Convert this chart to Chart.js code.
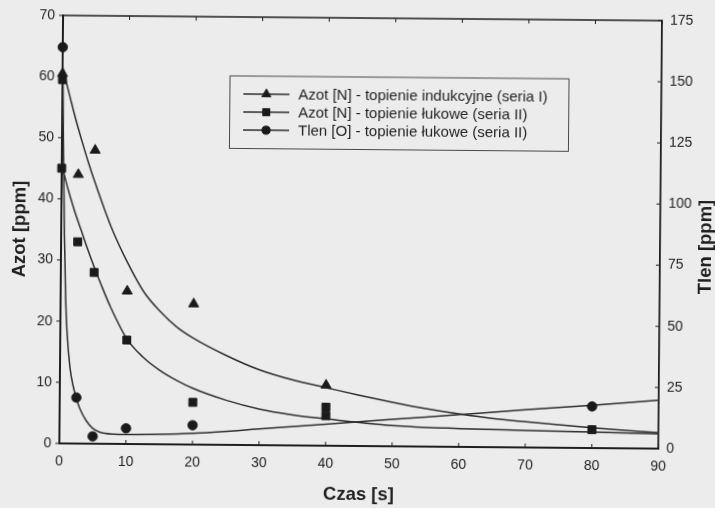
<!DOCTYPE html>
<html>
<head>
<meta charset="utf-8">
<script src="https://cdn.jsdelivr.net/npm/chart.js@4/dist/chart.umd.min.js"></script>
<style>
  html, body { margin: 0; padding: 0; background: #ececec; overflow: hidden; }
  #wrap { width: 715px; height: 508px; transform: rotate(0.5deg); transform-origin: 50% 50%; }
  canvas { display: block; }
</style>
</head>
<body>
<div id="wrap"><canvas id="c" width="715" height="508"></canvas></div>
<script>
// Measured concentrations vs. melting time [s]
const tInduction = [0, 2.5, 5, 10, 20, 40];
const nitrogenInduction = [60.5, 44, 48, 25, 23, 9.9];

const tArcN = [0, 0, 2.5, 5, 10, 20, 40, 40, 80];
const nitrogenArc = [59.5, 45, 33, 28, 17, 6.9, 6.3, 4.9, 3.0];

const tArcO = [0, 2.5, 5, 10, 20, 80];
const oxygenArc = [162, 18.8, 3.0, 6.4, 7.9, 17];

// Fitted trend curves
const fitTInduction = [0, 1, 2, 3, 4, 5, 7.5, 10, 12.5, 15, 17.5, 20, 25, 30, 35, 40, 45, 50, 55, 60, 65, 70, 80, 90];
const fitNInduction = [61.5, 57.3, 53.2, 49.5, 46, 42.8, 35.5, 29.7, 24.9, 21.7, 19.2, 17.4, 14.6, 12.3, 10.7, 9.5, 8.3, 7.2, 6.2, 5.4, 4.7, 4.2, 3.3, 2.6];

const fitTArcN = [0, 0.5, 1, 2, 3, 4, 5, 6, 7.5, 10, 12.5, 15, 17.5, 20, 25, 30, 35, 40, 50, 60, 70, 80, 90];
const fitNArc = [45.5, 43.5, 41.5, 38, 34.9, 31.8, 28.9, 26.2, 22.4, 17.2, 14.2, 12.1, 10.5, 9.2, 7.3, 5.9, 5.0, 4.4, 3.4, 3.0, 2.8, 2.6, 2.4];

const fitTArcO = [0, 0.25, 0.5, 0.75, 1, 1.5, 2, 2.5, 3, 4, 5, 6, 8, 10, 15, 20, 30, 40, 50, 60, 70, 80, 90];
const fitOArc = [162, 118, 85, 60, 46, 31, 23.5, 18.5, 14.5, 9.4, 6.3, 4.8, 4.0, 3.9, 4.1, 4.6, 6.6, 8.8, 11.0, 13.2, 15.4, 17.5, 19.8];

// Axis ticks
const timeTicks = [0, 10, 20, 30, 40, 50, 60, 70, 80, 90];
const nitrogenTicks = [0, 10, 20, 30, 40, 50, 60, 70];
const oxygenTicks = [0, 25, 50, 75, 100, 125, 150, 175];

const seriesLabels = [
  'Azot [N] - topienie indukcyjne (seria I)',
  'Azot [N] - topienie łukowe (seria II)',
  'Tlen [O] - topienie łukowe (seria II)'
];

const INK = '#1f1f1f';
const LINE = '#2e2e2e';
const FONT = "'Liberation Sans', Arial, sans-serif";

const pair = (xs, ys) => xs.map((x, i) => ({ x, y: ys[i] }));

const fitStyle = {
  showLine: true, pointRadius: 0, pointHoverRadius: 0,
  borderColor: LINE, borderWidth: 1.5, cubicInterpolationMode: 'monotone', fill: false
};
const markStyle = {
  showLine: false, backgroundColor: '#1a1a1a', borderColor: '#1a1a1a', borderWidth: 1, clip: false
};

const markers = [
  { pointStyle: 'triangle', pointRadius: 5.8 },
  { pointStyle: 'rect', pointRadius: 5.6 },
  { pointStyle: 'circle', pointRadius: 4.7 }
];

// Legend box with line + marker samples, plus frame, inward ticks and right title
const decor = {
  id: 'decor',
  afterDraw(chart) {
    const { ctx, chartArea: a, scales } = chart;
    ctx.save();
    ctx.strokeStyle = INK;
    ctx.lineWidth = 1.6;
    ctx.beginPath();
    ctx.moveTo(a.left, a.top);
    ctx.lineTo(a.right, a.top);
    ctx.stroke();

    ctx.lineWidth = 1;
    ctx.beginPath();
    timeTicks.forEach(v => {
      const p = scales.x.getPixelForValue(v);
      ctx.moveTo(p, a.bottom); ctx.lineTo(p, a.bottom - 4);
      ctx.moveTo(p, a.top); ctx.lineTo(p, a.top + 4);
    });
    nitrogenTicks.forEach(v => {
      const p = scales.y.getPixelForValue(v);
      ctx.moveTo(a.left, p); ctx.lineTo(a.left - 4, p);
    });
    oxygenTicks.forEach(v => {
      const p = scales.y2.getPixelForValue(v);
      ctx.moveTo(a.right, p); ctx.lineTo(a.right - 4, p);
    });
    ctx.stroke();

    // right axis title, reading bottom to top
    ctx.save();
    ctx.translate(a.right + 46, (a.top + a.bottom) / 2 + 12);
    ctx.rotate(-Math.PI / 2);
    ctx.fillStyle = INK;
    ctx.font = `bold 18.5px ${FONT}`;
    ctx.textAlign = 'center';
    ctx.textBaseline = 'middle';
    ctx.fillText('Tlen [ppm]', 0, 0);
    ctx.restore();

    // legend
    const lx = 228, ly = 76.5, lw = 339, lh = 72.5;
    ctx.fillStyle = '#ececec';
    ctx.fillRect(lx, ly, lw, lh);
    ctx.strokeStyle = '#4a4a4a';
    ctx.lineWidth = 1;
    ctx.strokeRect(lx + 0.5, ly + 0.5, lw, lh);
    ctx.font = `15px ${FONT}`;
    ctx.textAlign = 'left';
    ctx.textBaseline = 'middle';
    seriesLabels.forEach((label, i) => {
      const y = ly + 18.5 + i * 18;
      ctx.strokeStyle = LINE;
      ctx.lineWidth = 1.5;
      ctx.beginPath();
      ctx.moveTo(lx + 14, y);
      ctx.lineTo(lx + 60, y);
      ctx.stroke();
      ctx.fillStyle = '#1a1a1a';
      ctx.strokeStyle = '#1a1a1a';
      ctx.lineWidth = 1;
      Chart.helpers.drawPoint(ctx, {
        pointStyle: markers[i].pointStyle,
        radius: markers[i].pointRadius - 0.6,
        rotation: 0,
        borderWidth: 1
      }, lx + 37, y);
      ctx.fillStyle = INK;
      ctx.fillText(label, lx + 69, y + 1);
    });
    ctx.restore();
  }
};

new Chart(document.getElementById('c'), {
  type: 'scatter',
  data: {
    datasets: [
      { ...markStyle, ...markers[0], label: seriesLabels[0], data: pair(tInduction, nitrogenInduction), yAxisID: 'y' },
      { ...markStyle, ...markers[1], label: seriesLabels[1], data: pair(tArcN, nitrogenArc), yAxisID: 'y' },
      { ...markStyle, ...markers[2], label: seriesLabels[2], data: pair(tArcO, oxygenArc), yAxisID: 'y2' },
      { ...fitStyle, label: 'fit I', data: pair(fitTInduction, fitNInduction), yAxisID: 'y' },
      { ...fitStyle, label: 'fit II', data: pair(fitTArcN, fitNArc), yAxisID: 'y' },
      { ...fitStyle, label: 'fit O', data: pair(fitTArcO, fitOArc), yAxisID: 'y2' }
    ]
  },
  options: {
    responsive: false,
    animation: false,
    layout: { padding: { top: 18, left: 0, right: 0, bottom: 0 } },
    plugins: { legend: { display: false }, tooltip: { enabled: false } },
    scales: {
      x: {
        type: 'linear', position: 'bottom', min: 0, max: 90,
        afterBuildTicks: s => { s.ticks = timeTicks.map(v => ({ value: v })); },
        afterFit: s => { s.height = 62; },
        grid: { display: false, drawTicks: false },
        border: { display: true, color: INK, width: 2 },
        ticks: { color: INK, padding: 10, font: { family: FONT, size: 14 } },
        title: { display: true, text: 'Czas [s]', color: INK, padding: { top: 0, bottom: 2 }, font: { family: FONT, size: 18.5, weight: 'bold' } }
      },
      y: {
        type: 'linear', position: 'left', min: 0, max: 70,
        afterBuildTicks: s => { s.ticks = nitrogenTicks.map(v => ({ value: v })); },
        afterFit: s => { s.width = 61; },
        grid: { display: false, drawTicks: false },
        border: { display: true, color: INK, width: 2 },
        ticks: { color: INK, padding: 8, font: { family: FONT, size: 14 } },
        title: { display: true, text: 'Azot [ppm]', color: INK, padding: { top: 9, bottom: 0 }, font: { family: FONT, size: 18.5, weight: 'bold' } }
      },
      y2: {
        type: 'linear', position: 'right', min: 0, max: 175,
        afterBuildTicks: s => { s.ticks = oxygenTicks.map(v => ({ value: v })); },
        afterFit: s => { s.width = 55; },
        grid: { display: false, drawTicks: false },
        border: { display: true, color: INK, width: 1.8 },
        ticks: { color: INK, padding: 8, font: { family: FONT, size: 14 } }
      }
    }
  },
  plugins: [decor]
});
</script>
</body>
</html>
